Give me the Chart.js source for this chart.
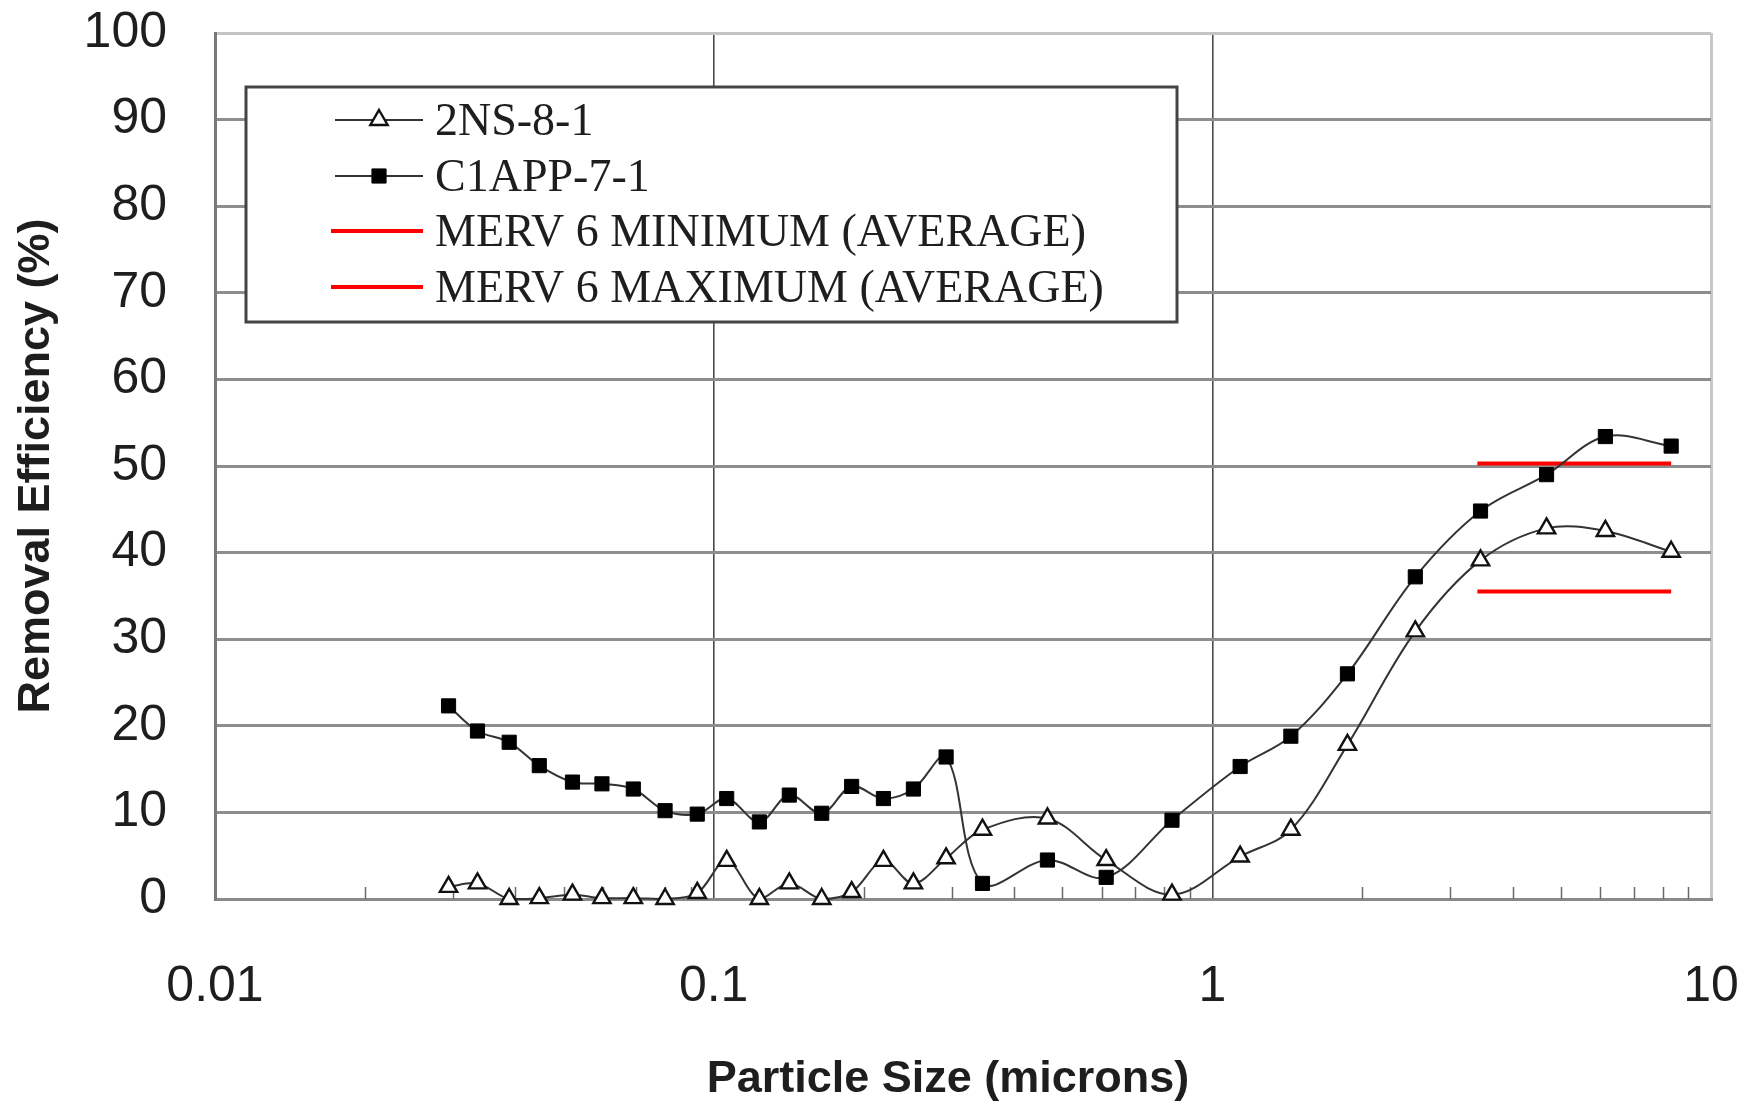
<!DOCTYPE html>
<html>
<head>
<meta charset="utf-8">
<script src="https://cdn.jsdelivr.net/npm/chart.js@4.4.1/dist/chart.umd.min.js"></script>
<style>
html,body{margin:0;padding:0;background:#fff;}
#wrap{width:1745px;height:1106px;position:relative;}
</style>
</head>
<body>
<div id="wrap"><canvas id="c" width="1745" height="1106"></canvas></div>
<script>
// ---- data ----
const particleSize = [0.0294, 0.0336, 0.0389, 0.0447, 0.0521, 0.0597, 0.0690, 0.0799, 0.0927, 0.1062,
  0.1235, 0.1418, 0.1647, 0.1891, 0.2190, 0.2515, 0.2925, 0.3460, 0.4670, 0.6125,
  0.8300, 1.137, 1.437, 1.866, 2.553, 3.45, 4.68, 6.14, 8.32];
const eff2NS = [1.4, 1.8, 0.0, 0.1, 0.5, 0.1, 0.1, 0.0, 0.7, 4.4,
  0.0, 1.8, 0.0, 0.8, 4.4, 1.8, 4.7, 8.0, 9.3, 4.5,
  0.5, 4.9, 8.0, 17.8, 30.9, 39.1, 42.8, 42.5, 40.1];
const effC1APP = [22.3, 19.4, 18.1, 15.4, 13.5, 13.3, 12.7, 10.2, 9.8, 11.6,
  8.9, 12.0, 9.9, 13.0, 11.6, 12.7, 16.4, 1.8, 4.5, 2.5,
  9.1, 15.3, 18.8, 26.0, 37.2, 44.8, 49.0, 53.4, 52.3];
const mervX = [3.4, 8.32];
const mervMin = [35.5, 35.5];
const mervMax = [50.3, 50.3];
const seriesNames = ['2NS-8-1', 'C1APP-7-1', 'MERV 6 MINIMUM (AVERAGE)', 'MERV 6 MAXIMUM (AVERAGE)'];
const xTickValues = [0.01, 0.1, 1, 10];
const minorDecades = [0.01, 0.1, 1];
const minorMultipliers = [2, 3, 4, 5, 6, 7, 8, 9];
const yMin = 0, yMax = 100, yStep = 10;
const xTitle = 'Particle Size (microns)';
const yTitle = 'Removal Efficiency (%)';

const toPoints = (xs, ys) => xs.map((x, i) => ({x: x, y: ys[i]}));

const minorTicksPlugin = {
  id: 'minorTicks',
  beforeDatasetsDraw(chart) {
    const xs = chart.scales.x;
    const {ctx, chartArea} = chart;
    ctx.save();
    ctx.strokeStyle = '#6a6a6a';
    ctx.lineWidth = 1.5;
    for (const d of minorDecades) {
      for (const m of minorMultipliers) {
        const px = Math.round(xs.getPixelForValue(m * d)) + 0.5;
        ctx.beginPath();
        ctx.moveTo(px, chartArea.bottom);
        ctx.lineTo(px, chartArea.bottom - 12);
        ctx.stroke();
      }
    }
    ctx.restore();
  }
};

const xTitlePlugin = {
  id: 'xTitleText',
  afterDraw(chart) {
    const {ctx, chartArea} = chart;
    ctx.save();
    ctx.fillStyle = '#1e1e1e';
    ctx.font = 'bold 45px "Liberation Sans"';
    ctx.textAlign = 'center';
    ctx.textBaseline = 'middle';
    ctx.fillText(xTitle, (chartArea.left + chartArea.right) / 2 - 15, chart.height - 26);
    ctx.restore();
  }
};

const legendPlugin = {
  id: 'boxLegend',
  afterDatasetsDraw(chart) {
    const {ctx, chartArea} = chart;
    const bx = chartArea.left + 31, by = chartArea.top + 54, bw = 931, bh = 235;
    ctx.save();
    ctx.fillStyle = '#ffffff';
    ctx.fillRect(bx, by, bw, bh);
    ctx.strokeStyle = '#444';
    ctx.lineWidth = 3;
    ctx.strokeRect(bx, by, bw, bh);
    const rows = [by + 33, by + 89, by + 144, by + 200];
    const sx0 = bx + 89, sx1 = bx + 177, tx = bx + 189;
    chart.data.datasets.forEach((ds, i) => {
      const y = rows[i];
      ctx.strokeStyle = ds.borderColor;
      ctx.lineWidth = ds.borderWidth;
      ctx.beginPath();
      ctx.moveTo(ds.pointRadius > 0 ? sx0 : sx0 - 4, y);
      ctx.lineTo(sx1, y);
      ctx.stroke();
      if (ds.pointRadius > 0) {
        ctx.fillStyle = ds.pointBackgroundColor;
        ctx.strokeStyle = ds.pointBorderColor;
        ctx.lineWidth = ds.pointBorderWidth;
        Chart.helpers.drawPoint(ctx, {pointStyle: ds.pointStyle, radius: ds.pointRadius, rotation: 0, borderWidth: ds.pointBorderWidth}, (sx0 + sx1) / 2, y);
      }
      ctx.fillStyle = '#1e1e1e';
      ctx.font = '46px "Liberation Serif"';
      ctx.textBaseline = 'alphabetic';
      ctx.textAlign = 'left';
      ctx.fillText(ds.label, tx, y + 15);
    });
    ctx.restore();
  }
};

new Chart(document.getElementById('c'), {
  type: 'line',
  data: {
    datasets: [
      {
        label: seriesNames[0], data: toPoints(particleSize, eff2NS),
        borderColor: '#333333', borderWidth: 2, tension: 0.35, clip: false,
        pointStyle: 'triangle', pointRadius: 10, pointBackgroundColor: '#ffffff',
        pointBorderColor: '#111', pointBorderWidth: 2.4
      },
      {
        label: seriesNames[1], data: toPoints(particleSize, effC1APP),
        borderColor: '#333333', borderWidth: 2, tension: 0.35, clip: false,
        pointStyle: 'rect', pointRadius: 10, pointBackgroundColor: '#000000',
        pointBorderColor: '#000', pointBorderWidth: 1
      },
      {
        label: seriesNames[2], data: toPoints(mervX, mervMin),
        borderColor: '#ff0000', borderWidth: 4, pointRadius: 0, tension: 0
      },
      {
        label: seriesNames[3], data: toPoints(mervX, mervMax),
        borderColor: '#ff0000', borderWidth: 4, pointRadius: 0, tension: 0
      }
    ]
  },
  options: {
    responsive: false,
    animation: false,
    devicePixelRatio: 1,
    layout: {padding: {left: 0, right: 34, top: 33, bottom: 0}},
    plugins: {legend: {display: false}, tooltip: {enabled: false}},
    scales: {
      x: {
        type: 'logarithmic', min: xTickValues[0], max: xTickValues[xTickValues.length - 1],
        afterBuildTicks: s => { s.ticks = xTickValues.map(v => ({value: v})); },
        afterFit: s => { s.height = 207; s.paddingLeft = 0; s.paddingRight = 0; },
        ticks: {
          autoSkip: false, maxRotation: 0, padding: 58, color: '#1e1e1e',
          font: {family: 'Liberation Sans', size: 50},
          callback: v => String(v)
        },
        grid: {
          drawTicks: false,
          color: c => {
            const v = c.tick ? c.tick.value : 0;
            if (v === 10) return '#c8c8c8';
            if (v === 0.01) return '#7a7a7a';
            return '#4a4a4a';
          },
          lineWidth: c => {
            const v = c.tick ? c.tick.value : 0;
            return (v === 10 || v === 0.01) ? 3 : 1.6;
          }
        },
        border: {display: true, color: '#8a8a8a', width: 3},
        title: {display: false}
      },
      y: {
        min: yMin, max: yMax,
        afterFit: s => { s.width = 215; s.paddingTop = 0; s.paddingBottom = 0; },
        ticks: {
          stepSize: yStep, padding: 48, color: '#1e1e1e',
          font: {family: 'Liberation Sans', size: 50}
        },
        grid: {
          drawTicks: false,
          color: c => (c.tick && c.tick.value === yMax) ? '#c4c4c4' : '#8e8e8e',
          lineWidth: 3
        },
        border: {display: true, color: '#7a7a7a', width: 3},
        title: {
          display: true, text: yTitle, color: '#1e1e1e',
          font: {family: 'Liberation Sans', size: 45, weight: 'bold'},
          padding: {top: 10, bottom: 0}
        }
      }
    }
  },
  plugins: [minorTicksPlugin, legendPlugin, xTitlePlugin]
});
</script>
</body>
</html>
